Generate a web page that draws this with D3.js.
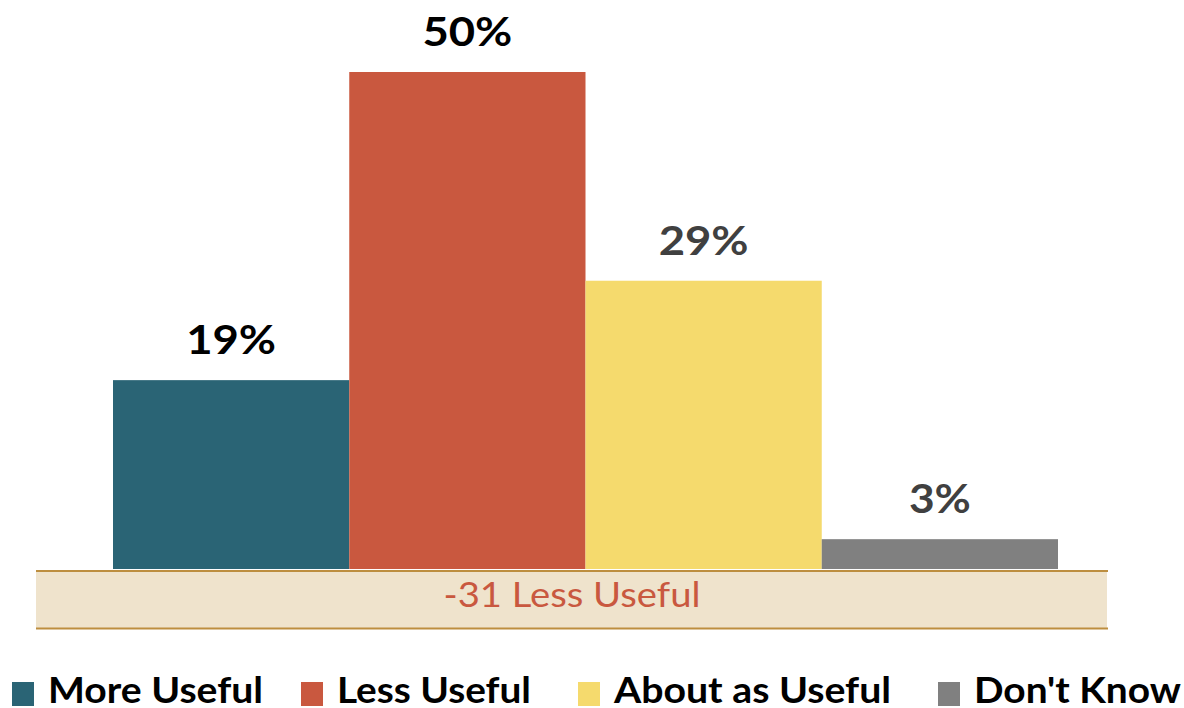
<!DOCTYPE html>
<html>
<head>
<meta charset="utf-8">
<script src="https://cdn.jsdelivr.net/npm/d3@7"></script>
<style>
  body { margin: 0; background: #fff; }
  text { font-family: Lato, "Open Sans", sans-serif; }
</style>
</head>
<body>
<svg id="chart" width="1184" height="708"></svg>
<script>
const categories = ['More Useful', 'Less Useful', 'About as Useful', "Don't Know"];
const values = [19, 50, 29, 3];
const colors = ['#2A6475', '#C9583F', '#F5DA6D', '#808080'];
const labelColors = ['#000000', '#000000', '#404040', '#404040'];
const netLabel = '-31 Less Useful';

const svg = d3.select('#chart');

const x = d3.scaleBand()
  .domain(categories)
  .range([113, 1058])
  .padding(0);

const y = d3.scaleLinear()
  .domain([0, 50])
  .range([569, 72]);

// net band under the bars
const band = svg.append('g');
band.append('rect')
  .attr('x', 36).attr('y', 571)
  .attr('width', 1071).attr('height', 57)
  .attr('fill', '#EFE3CC');
band.append('line')
  .attr('x1', 36).attr('x2', 1108).attr('y1', 571).attr('y2', 571)
  .attr('stroke', '#BD8E3F').attr('stroke-width', 2);
band.append('line')
  .attr('x1', 36).attr('x2', 1108).attr('y1', 628.5).attr('y2', 628.5)
  .attr('stroke', '#BD8E3F').attr('stroke-width', 2);
band.append('text')
  .attr('x', 572).attr('y', 607)
  .attr('text-anchor', 'middle')
  .attr('font-size', 34)
  .attr('fill', '#C9583F')
  .attr('textLength', 257)
  .attr('lengthAdjust', 'spacingAndGlyphs')
  .text(netLabel);

// bars
svg.selectAll('.bar')
  .data(categories)
  .enter().append('rect')
  .attr('class', 'bar')
  .attr('x', d => x(d))
  .attr('width', x.bandwidth())
  .attr('y', (d, i) => y(values[i]))
  .attr('height', (d, i) => y(0) - y(values[i]))
  .attr('fill', (d, i) => colors[i]);

// value labels
svg.selectAll('.val')
  .data(categories)
  .enter().append('text')
  .attr('class', 'val')
  .attr('x', d => x(d) + x.bandwidth() / 2)
  .attr('y', (d, i) => y(values[i]) - 26)
  .attr('text-anchor', 'middle')
  .attr('font-size', 41)
  .attr('font-weight', 'bold')
  .attr('fill', (d, i) => labelColors[i])
  .attr('textLength', (d, i) => values[i] < 10 ? 62 : 90)
  .attr('lengthAdjust', 'spacingAndGlyphs')
  .text((d, i) => values[i] + '%');

// legend
const legendX = [12, 301, 578, 938];
const legendW = [215, 194, 277, 207];
const lg = svg.selectAll('.leg')
  .data(categories)
  .enter().append('g')
  .attr('class', 'leg')
  .attr('transform', (d, i) => `translate(${legendX[i]},682)`);
lg.append('rect')
  .attr('width', 22).attr('height', 24)
  .attr('fill', (d, i) => colors[i]);
lg.append('text')
  .attr('x', 36).attr('y', 21)
  .attr('font-size', 36)
  .attr('font-weight', 'bold')
  .attr('fill', '#000')
  .attr('textLength', (d, i) => legendW[i])
  .attr('lengthAdjust', 'spacingAndGlyphs')
  .text(d => d);
</script>
</body>
</html>
